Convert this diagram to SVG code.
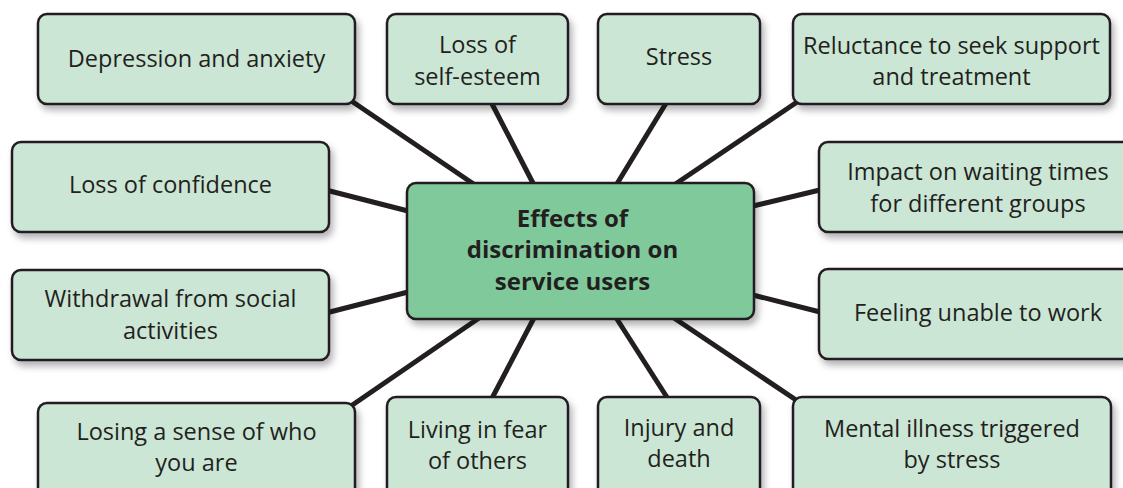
<svg xmlns="http://www.w3.org/2000/svg" width="1123" height="488" viewBox="0 0 1123 488">
<defs>
<filter id="sh" x="-10%" y="-20%" width="130%" height="150%">
<feDropShadow dx="3" dy="5" stdDeviation="3.5" flood-color="#000" flood-opacity="0.3"/>
</filter>
<style>
.box{fill:#cbe6d5;stroke:#231f20;stroke-width:2.5;filter:url(#sh)}
.hub{fill:#80c99b;stroke:#231f20;stroke-width:2.5;filter:url(#sh)}
.t{font-family:"Open Sans","Noto Sans",sans-serif;font-size:23.5px;fill:#231f20;text-anchor:middle}
.tb{font-family:"Open Sans","Noto Sans",sans-serif;font-size:24px;font-weight:bold;fill:#231f20;text-anchor:middle}
.c line{stroke:#231f20;stroke-width:5;stroke-linecap:butt}
</style>
</defs>
<rect width="1123" height="488" fill="#ffffff"/>
<g class="c" id="connectors">
<line x1="350" y1="100" x2="478" y2="187"/>
<line x1="490" y1="100" x2="535" y2="187"/>
<line x1="668" y1="100" x2="615" y2="187"/>
<line x1="803" y1="98" x2="671" y2="187"/>
<line x1="322" y1="189" x2="412" y2="212"/>
<line x1="322" y1="314" x2="412" y2="291"/>
<line x1="749" y1="207" x2="824" y2="189"/>
<line x1="749" y1="294" x2="824" y2="313"/>
<line x1="348" y1="408" x2="482" y2="316"/>
<line x1="490" y1="402" x2="535" y2="316"/>
<line x1="670" y1="402" x2="615" y2="316"/>
<line x1="802" y1="404" x2="671" y2="316"/>
</g>
<g id="n-depression"><rect class="box" x="38" y="14" width="317" height="90" rx="9"/><text class="t" x="196.5" y="67">Depression and anxiety</text></g>
<g id="n-selfesteem"><rect class="box" x="387" y="14" width="181" height="90" rx="9"/><text class="t" x="477.5" y="53">Loss of</text><text class="t" x="477.5" y="85">self-esteem</text></g>
<g id="n-stress"><rect class="box" x="598" y="14" width="162" height="90" rx="9"/><text class="t" x="679" y="65">Stress</text></g>
<g id="n-reluctance"><rect class="box" x="793" y="14" width="317" height="90" rx="9"/><text class="t" x="951.5" y="54">Reluctance to seek support</text><text class="t" x="951.5" y="85">and treatment</text></g>
<g id="n-confidence"><rect class="box" x="12" y="142" width="317" height="90" rx="9"/><text class="t" x="170.5" y="193">Loss of confidence</text></g>
<g id="n-waiting"><rect class="box" x="819" y="142" width="330" height="90" rx="9"/><text class="t" x="978" y="180">Impact on waiting times</text><text class="t" x="978" y="212">for different groups</text></g>
<g id="n-hub"><rect class="hub" x="407" y="183" width="347" height="136" rx="9"/><text class="tb" x="572.5" y="227">Effects of</text><text class="tb" x="572.5" y="258">discrimination on</text><text class="tb" x="572.5" y="290">service users</text></g>
<g id="n-withdrawal"><rect class="box" x="12" y="270" width="317" height="90" rx="9"/><text class="t" x="170.5" y="307">Withdrawal from social</text><text class="t" x="170.5" y="339">activities</text></g>
<g id="n-work"><rect class="box" x="819" y="269" width="330" height="90" rx="9"/><text class="t" x="978" y="321">Feeling unable to work</text></g>
<g id="n-sense"><rect class="box" x="38" y="403" width="317" height="100" rx="9"/><text class="t" x="196.5" y="440">Losing a sense of who</text><text class="t" x="196.5" y="471">you are</text></g>
<g id="n-fear"><rect class="box" x="387" y="397" width="181" height="100" rx="9"/><text class="t" x="477.5" y="438">Living in fear</text><text class="t" x="477.5" y="469">of others</text></g>
<g id="n-injury"><rect class="box" x="598" y="397" width="162" height="100" rx="9"/><text class="t" x="679" y="436">Injury and</text><text class="t" x="679" y="467">death</text></g>
<g id="n-mental"><rect class="box" x="793" y="397" width="318" height="100" rx="9"/><text class="t" x="952" y="437">Mental illness triggered</text><text class="t" x="952" y="468">by stress</text></g>
</svg>
